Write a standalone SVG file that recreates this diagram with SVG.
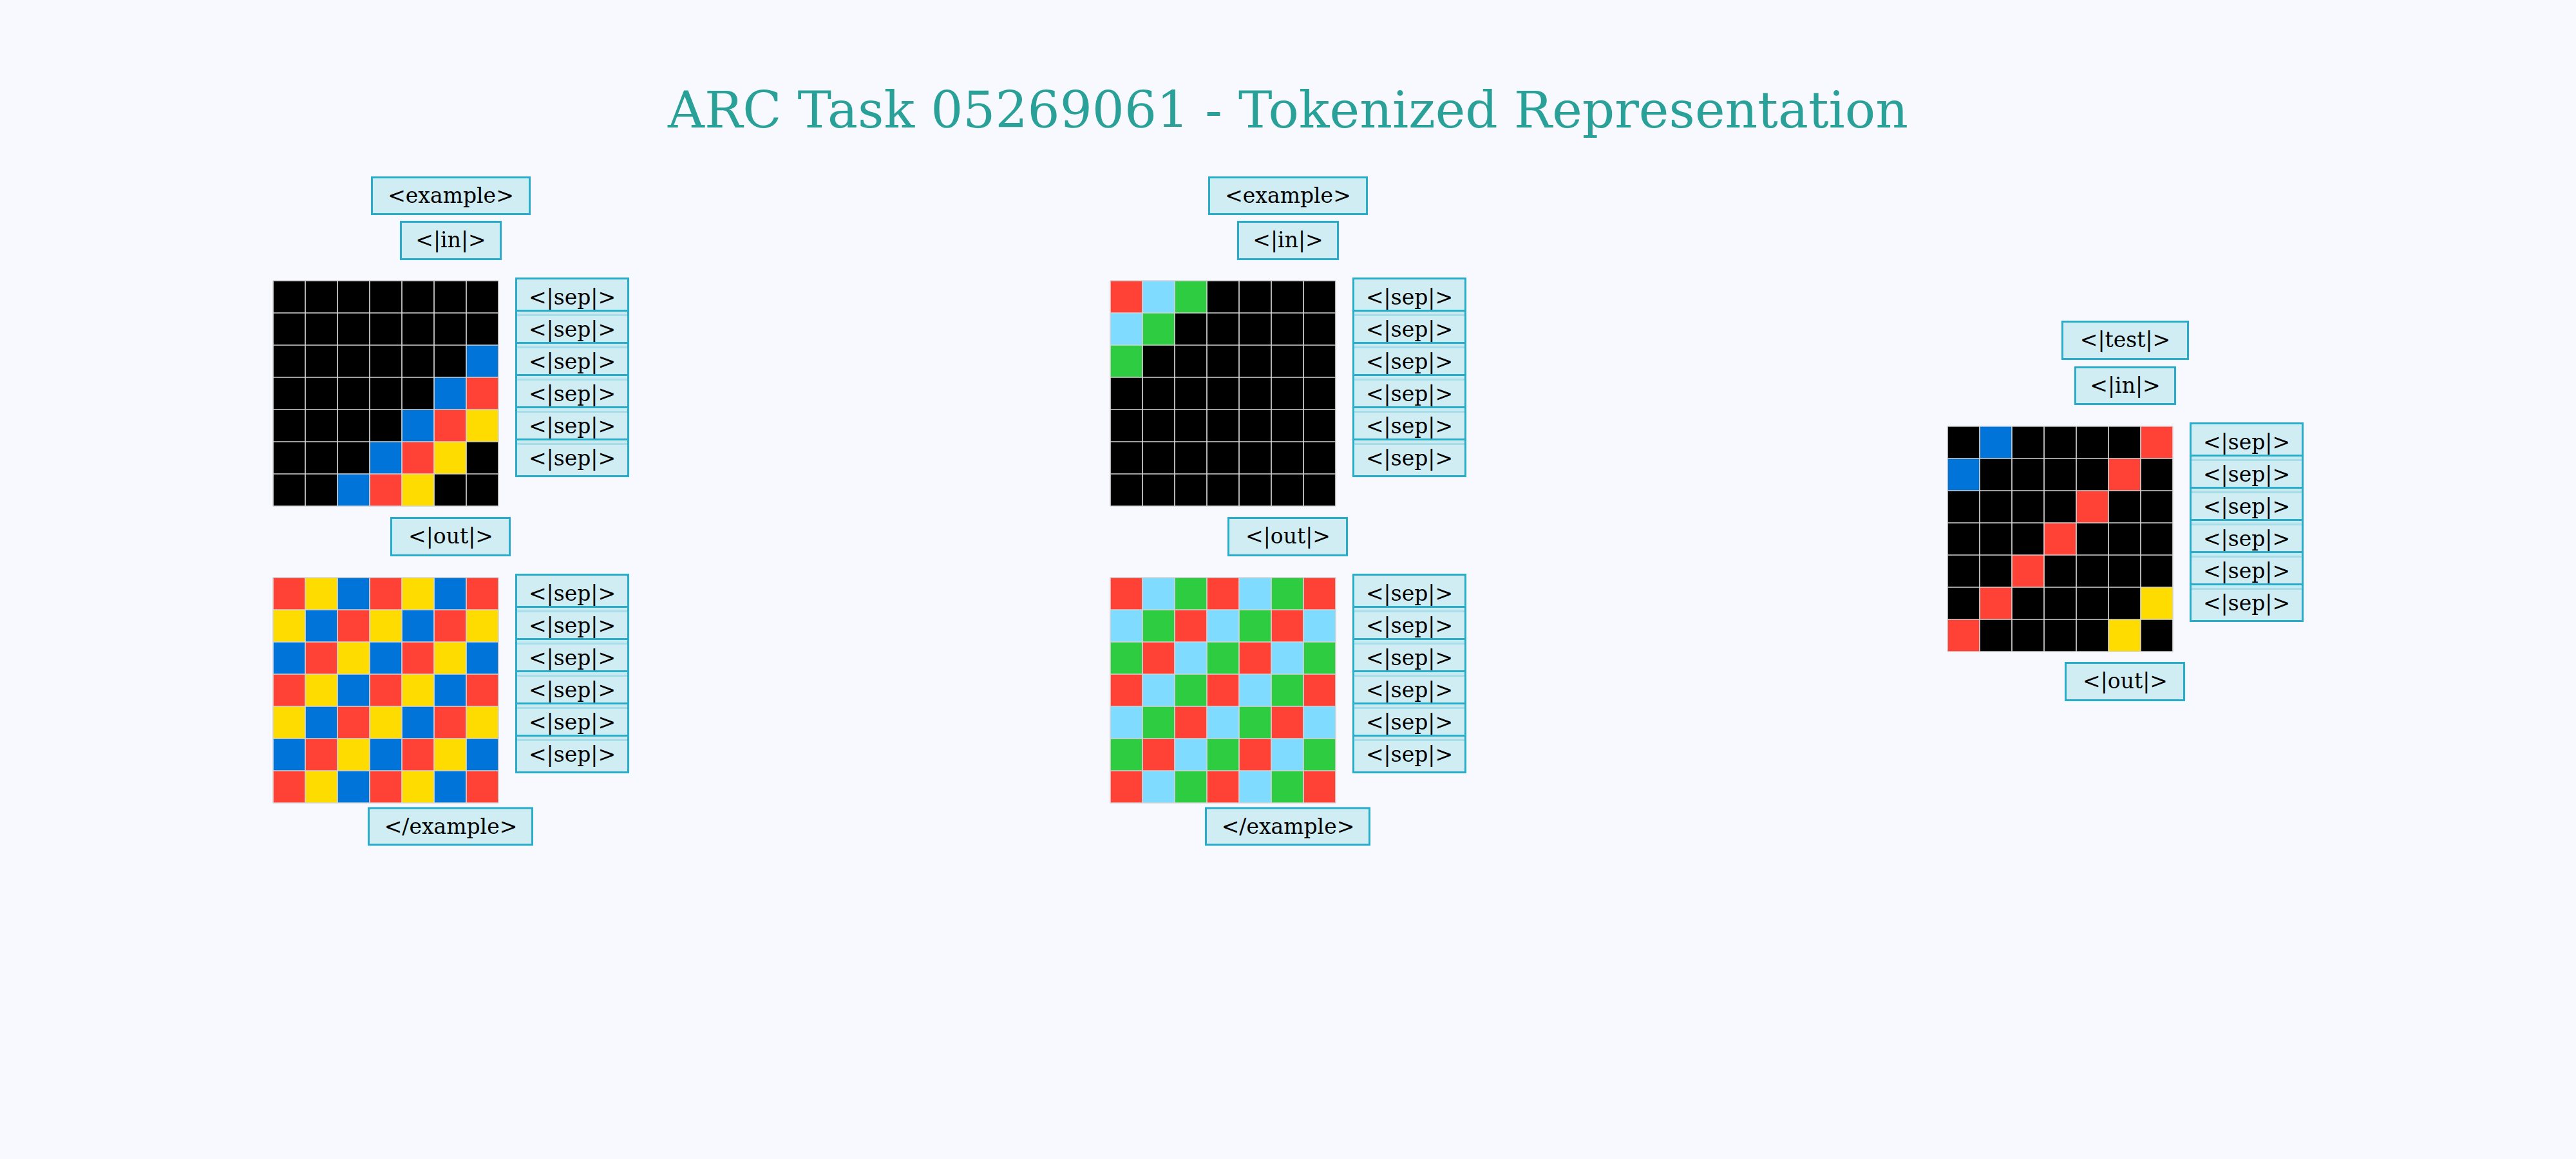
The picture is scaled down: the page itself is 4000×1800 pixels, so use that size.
<svg xmlns="http://www.w3.org/2000/svg" xmlns:xlink="http://www.w3.org/1999/xlink" width="4000" height="1800" viewBox="0 0 4000 1800">
<style>
.tok{fill:#c5eaf0;fill-opacity:0.8;stroke:#29abca;stroke-width:3}
.tt{font-family:"DejaVu Serif","Liberation Serif",serif;font-size:33px;fill:#000;text-anchor:middle}
.title{font-family:"DejaVu Serif","Liberation Serif",serif;font-size:79px;fill:#2aa198;text-anchor:middle}
.k{fill:#000000}.b{fill:#0074D9}.r{fill:#FF4136}.y{fill:#FFDC00}.g{fill:#2ECC40}.l{fill:#7FDBFF}
</style>
<defs>
<path id="gridlines" d="M0,0H350M0,50H350M0,100H350M0,150H350M0,200H350M0,250H350M0,300H350M0,350H350M0,0V350M50,0V350M100,0V350M150,0V350M200,0V350M250,0V350M300,0V350M350,0V350" fill="none" stroke="#d4d4d4" stroke-width="1.7"/>
<pattern id="pat1" width="150" height="150" patternUnits="userSpaceOnUse">
<rect class="r" x="0" y="0" width="50" height="50"/><rect class="y" x="50" y="0" width="50" height="50"/><rect class="b" x="100" y="0" width="50" height="50"/>
<rect class="y" x="0" y="50" width="50" height="50"/><rect class="b" x="50" y="50" width="50" height="50"/><rect class="r" x="100" y="50" width="50" height="50"/>
<rect class="b" x="0" y="100" width="50" height="50"/><rect class="r" x="50" y="100" width="50" height="50"/><rect class="y" x="100" y="100" width="50" height="50"/>
</pattern>
<pattern id="pat2" width="150" height="150" patternUnits="userSpaceOnUse">
<rect class="r" x="0" y="0" width="50" height="50"/><rect class="l" x="50" y="0" width="50" height="50"/><rect class="g" x="100" y="0" width="50" height="50"/>
<rect class="l" x="0" y="50" width="50" height="50"/><rect class="g" x="50" y="50" width="50" height="50"/><rect class="r" x="100" y="50" width="50" height="50"/>
<rect class="g" x="0" y="100" width="50" height="50"/><rect class="r" x="50" y="100" width="50" height="50"/><rect class="l" x="100" y="100" width="50" height="50"/>
</pattern>
<g id="sepcol">
<rect class="tok" x="0" y="0" width="174" height="57"/><text class="tt" x="87" y="40">&lt;|sep|&gt;</text>
<rect class="tok" x="0" y="50" width="174" height="57"/><text class="tt" x="87" y="90">&lt;|sep|&gt;</text>
<rect class="tok" x="0" y="100" width="174" height="57"/><text class="tt" x="87" y="140">&lt;|sep|&gt;</text>
<rect class="tok" x="0" y="150" width="174" height="57"/><text class="tt" x="87" y="190">&lt;|sep|&gt;</text>
<rect class="tok" x="0" y="200" width="174" height="57"/><text class="tt" x="87" y="240">&lt;|sep|&gt;</text>
<rect class="tok" x="0" y="250" width="174" height="57"/><text class="tt" x="87" y="290">&lt;|sep|&gt;</text>
</g>
</defs>
<rect x="0" y="0" width="4000" height="1800" fill="#f7f9fe"/>
<g id="title"><text class="title" x="2000" y="198" textLength="1926" lengthAdjust="spacingAndGlyphs">ARC Task 05269061 - Tokenized Representation</text></g>

<!-- Example 1 -->
<g id="ex1-start"><rect class="tok" x="577.5" y="275.5" width="245" height="57"/><text class="tt" x="700" y="315">&lt;example&gt;</text></g>
<g id="ex1-in"><rect class="tok" x="622.5" y="344.5" width="155" height="58"/><text class="tt" x="700" y="384">&lt;|in|&gt;</text></g>
<g id="ex1-in-grid" transform="translate(424,436)">
<rect class="k" width="350" height="350"/>
<rect class="b" x="300" y="100" width="50" height="50"/>
<rect class="b" x="250" y="150" width="50" height="50"/><rect class="r" x="300" y="150" width="50" height="50"/>
<rect class="b" x="200" y="200" width="50" height="50"/><rect class="r" x="250" y="200" width="50" height="50"/><rect class="y" x="300" y="200" width="50" height="50"/>
<rect class="b" x="150" y="250" width="50" height="50"/><rect class="r" x="200" y="250" width="50" height="50"/><rect class="y" x="250" y="250" width="50" height="50"/>
<rect class="b" x="100" y="300" width="50" height="50"/><rect class="r" x="150" y="300" width="50" height="50"/><rect class="y" x="200" y="300" width="50" height="50"/>
<use xlink:href="#gridlines"/>
</g>
<g id="ex1-in-sep" transform="translate(801.5,432.5)"><use xlink:href="#sepcol"/></g>
<g id="ex1-out"><rect class="tok" x="607.5" y="804.5" width="184" height="58"/><text class="tt" x="700" y="844">&lt;|out|&gt;</text></g>
<g id="ex1-out-grid" transform="translate(424,897)">
<rect width="350" height="350" fill="url(#pat1)"/>
<use xlink:href="#gridlines"/>
</g>
<g id="ex1-out-sep" transform="translate(801.5,892.5)"><use xlink:href="#sepcol"/></g>
<g id="ex1-end"><rect class="tok" x="572.5" y="1255" width="254" height="57"/><text class="tt" x="700" y="1295">&lt;/example&gt;</text></g>

<!-- Example 2 -->
<g id="ex2-start"><rect class="tok" x="1877.5" y="275.5" width="245" height="57"/><text class="tt" x="2000" y="315">&lt;example&gt;</text></g>
<g id="ex2-in"><rect class="tok" x="1922.5" y="344.5" width="155" height="58"/><text class="tt" x="2000" y="384">&lt;|in|&gt;</text></g>
<g id="ex2-in-grid" transform="translate(1724,436)">
<rect class="k" width="350" height="350"/>
<rect class="r" x="0" y="0" width="50" height="50"/><rect class="l" x="50" y="0" width="50" height="50"/><rect class="g" x="100" y="0" width="50" height="50"/>
<rect class="l" x="0" y="50" width="50" height="50"/><rect class="g" x="50" y="50" width="50" height="50"/>
<rect class="g" x="0" y="100" width="50" height="50"/>
<use xlink:href="#gridlines"/>
</g>
<g id="ex2-in-sep" transform="translate(2101.5,432.5)"><use xlink:href="#sepcol"/></g>
<g id="ex2-out"><rect class="tok" x="1907.5" y="804.5" width="184" height="58"/><text class="tt" x="2000" y="844">&lt;|out|&gt;</text></g>
<g id="ex2-out-grid" transform="translate(1724,897)">
<rect width="350" height="350" fill="url(#pat2)"/>
<use xlink:href="#gridlines"/>
</g>
<g id="ex2-out-sep" transform="translate(2101.5,892.5)"><use xlink:href="#sepcol"/></g>
<g id="ex2-end"><rect class="tok" x="1872.5" y="1255" width="254" height="57"/><text class="tt" x="2000" y="1295">&lt;/example&gt;</text></g>

<!-- Test -->
<g id="test-start"><rect class="tok" x="3202.5" y="499.5" width="195" height="58"/><text class="tt" x="3300" y="539">&lt;|test|&gt;</text></g>
<g id="test-in"><rect class="tok" x="3222.5" y="570.5" width="155" height="57"/><text class="tt" x="3300" y="610">&lt;|in|&gt;</text></g>
<g id="test-in-grid" transform="translate(3024,662)">
<rect class="k" width="350" height="350"/>
<rect class="b" x="50" y="0" width="50" height="50"/><rect class="r" x="300" y="0" width="50" height="50"/>
<rect class="b" x="0" y="50" width="50" height="50"/><rect class="r" x="250" y="50" width="50" height="50"/>
<rect class="r" x="200" y="100" width="50" height="50"/>
<rect class="r" x="150" y="150" width="50" height="50"/>
<rect class="r" x="100" y="200" width="50" height="50"/>
<rect class="r" x="50" y="250" width="50" height="50"/><rect class="y" x="300" y="250" width="50" height="50"/>
<rect class="r" x="0" y="300" width="50" height="50"/><rect class="y" x="250" y="300" width="50" height="50"/>
<use xlink:href="#gridlines"/>
</g>
<g id="test-in-sep" transform="translate(3401.5,657.5)"><use xlink:href="#sepcol"/></g>
<g id="test-out"><rect class="tok" x="3207.5" y="1029.5" width="184" height="58"/><text class="tt" x="3300" y="1069">&lt;|out|&gt;</text></g>
</svg>
